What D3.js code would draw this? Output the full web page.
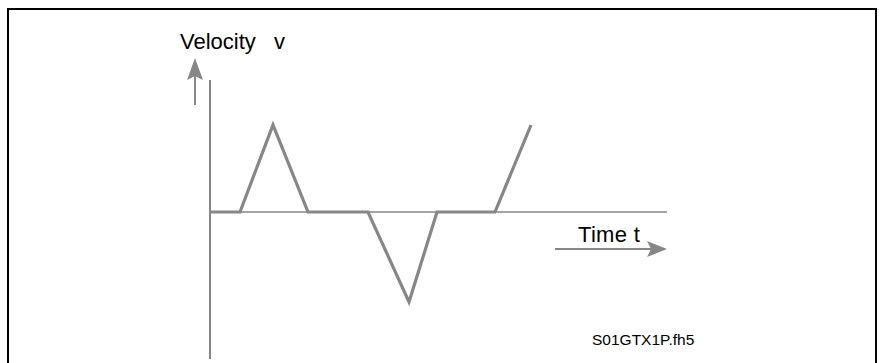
<!DOCTYPE html>
<html>
<head>
<meta charset="utf-8">
<script src="https://cdn.jsdelivr.net/npm/d3@7"></script>
<style>
  body { margin: 0; background: #fff; }
  text { font-family: "Liberation Sans", Arial, sans-serif; }
</style>
</head>
<body>
<div id="container"></div>
<script>
// canvas size
let width = 882;
let height = 363;

// waveform data (time in arbitrary units, velocity in arbitrary units)
var times = [0, 30, 63, 98, 158, 199, 227, 285, 321];
var velocities = [0, 0, 87, 0, 0, -90, 0, 0, 87];
var timeMax = 457;

// labels
var yLabel = ["Velocity", "v"];
var xLabel = "Time t";
var fileTag = "S01GTX1P.fh5";

var gray = "#878787";

var svg = d3.select("#container").append("svg")
  .attr("width", width)
  .attr("height", height);

// frame (no bottom edge)
svg.append("path")
  .attr("d", "M8," + height + " V9 H876 V" + height)
  .attr("fill", "none")
  .attr("stroke", "#000")
  .attr("stroke-width", 2);

var x = d3.scaleLinear().domain([0, timeMax]).range([210, 667]);
var y = d3.scaleLinear().domain([-100, 100]).range([312, 112]);

// time axis (thin)
svg.append("line")
  .attr("x1", x(0)).attr("x2", x(timeMax))
  .attr("y1", y(0)).attr("y2", y(0))
  .attr("stroke", gray).attr("stroke-width", 1.6);

// velocity axis
svg.append("line")
  .attr("x1", x(0)).attr("x2", x(0))
  .attr("y1", 80).attr("y2", 359)
  .attr("stroke", gray).attr("stroke-width", 2);

// waveform
var line = d3.line()
  .x(function(d, i) { return x(times[i]); })
  .y(function(d) { return y(d); });

svg.append("path")
  .datum(velocities)
  .attr("d", line)
  .attr("fill", "none")
  .attr("stroke", gray)
  .attr("stroke-width", 3.2)
  .attr("stroke-linejoin", "miter");

// up arrow next to the velocity label
svg.append("line")
  .attr("x1", 195).attr("x2", 195)
  .attr("y1", 105).attr("y2", 74)
  .attr("stroke", gray).attr("stroke-width", 2);
svg.append("path")
  .attr("d", "M195,58 L203,80 L195,76 L187,80 Z")
  .attr("fill", gray);

// right arrow under the time label
svg.append("line")
  .attr("x1", 555).attr("x2", 652)
  .attr("y1", 249).attr("y2", 249)
  .attr("stroke", gray).attr("stroke-width", 2);
svg.append("path")
  .attr("d", "M667,249 L647,241 L651,249 L647,257 Z")
  .attr("fill", gray);

// texts
var yText = svg.append("text")
  .attr("y", 49)
  .attr("font-size", 22)
  .attr("fill", "#000");
yText.append("tspan").attr("x", 180).text(yLabel[0]);
yText.append("tspan").attr("x", 274).text(yLabel[1]);

svg.append("text")
  .attr("x", 578).attr("y", 242)
  .attr("font-size", 22)
  .attr("letter-spacing", 0.3)
  .attr("fill", "#000")
  .text(xLabel);

svg.append("text")
  .attr("x", 592).attr("y", 345)
  .attr("font-size", 15.5)
  .attr("fill", "#000")
  .text(fileTag);
</script>
</body>
</html>
